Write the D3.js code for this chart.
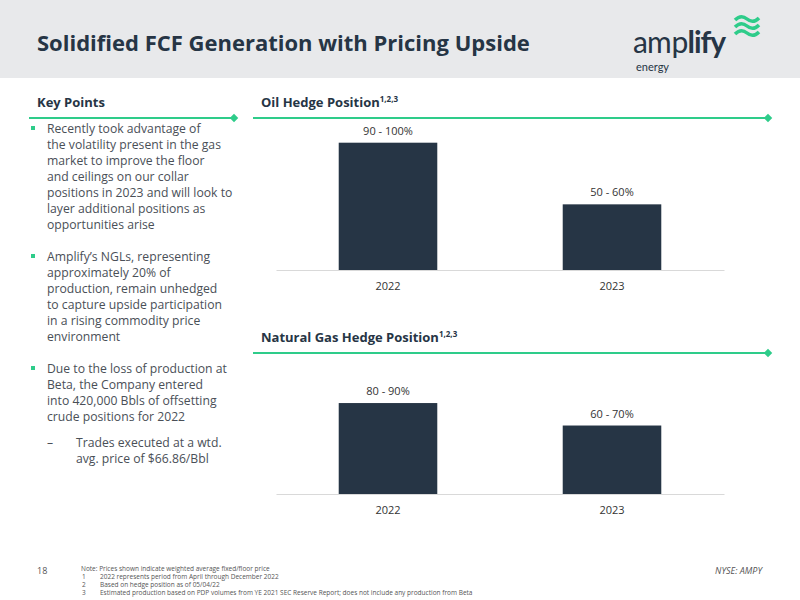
<!DOCTYPE html>
<html><head><meta charset="utf-8">
<script src="https://cdn.jsdelivr.net/npm/d3@7"></script>
<style>body{margin:0}svg{font-family:"Open Sans",sans-serif}</style>
</head><body><svg width="800" height="600"></svg>
<script>
const years = ["2022", "2023"];
const oilValues = [95, 49];
const oilLabels = ["90 - 100%", "50 - 60%"];
const gasValues = [85, 64];
const gasLabels = ["80 - 90%", "60 - 70%"];
const bullets = [
  ["Recently took advantage of", "the volatility present in the gas", "market to improve the floor", "and ceilings on our collar", "positions in 2023 and will look to", "layer additional positions as", "opportunities arise"],
  ["Amplify’s NGLs, representing", "approximately 20% of", "production, remain unhedged", "to capture upside participation", "in a rising commodity price", "environment"],
  ["Due to the loss of production at", "Beta, the Company entered", "into 420,000 Bbls of offsetting", "crude positions for 2022"]
];
const subBullet = ["Trades executed at a wtd.", "avg. price of $66.86/Bbl"];
const notes = ["Note: Prices shown indicate weighted average fixed/floor price",
  "2022 represents period from April through December 2022",
  "Based on hedge position as of 05/04/22",
  "Estimated production based on PDP volumes from YE 2021 SEC Reserve Report; does not include any production from Beta"];

const navy = "#263545", green = "#2ecc8a", grey = "#4a4f57";
const svg = d3.select("svg");
svg.append("rect").attr("width", 800).attr("height", 78).attr("fill", "#e8e9eb");
svg.append("text").attr("x", 37).attr("y", 51).attr("font-size", 22).attr("font-weight", "bold")
  .attr("fill", navy).text("Solidified FCF Generation with Pricing Upside");

// logo
svg.append("text").attr("x", 633).attr("y", 53).attr("font-size", 30).attr("fill", navy)
  .attr("font-family", "Lato").attr("letter-spacing", -1)
  .html('am<tspan dx="1">p</tspan><tspan font-weight="bold">lify</tspan>');
svg.append("text").attr("x", 636).attr("y", 71).attr("font-size", 11).attr("fill", navy)
  .attr("font-family", "Lato").text("energy");
[0, 7, 14].forEach(d => svg.append("path")
  .attr("d", `M735,${20 + d} q6,-6 12,-1 t12,-1`).attr("fill", "none")
  .attr("stroke", green).attr("stroke-width", 3.5));

// section headers
const header = (x, y, x2, label, sup) => {
  const t = svg.append("text").attr("x", x).attr("y", y).attr("font-size", 13)
    .attr("font-weight", "bold").attr("fill", navy).text(label);
  if (sup) t.append("tspan").attr("font-size", 8).attr("dy", -5).text(sup);
  svg.append("line").attr("x1", x - 8).attr("x2", x2).attr("y1", y + 11).attr("y2", y + 11)
    .attr("stroke", green).attr("stroke-width", 2);
  svg.append("rect").attr("x", x2 - 3).attr("y", y + 8).attr("width", 6).attr("height", 6)
    .attr("fill", green).attr("transform", `rotate(45,${x2},${y + 11})`);
};
header(37, 107, 234, "Key Points");
header(261, 107, 768, "Oil Hedge Position", "1,2,3");
header(261, 342, 768, "Natural Gas Hedge Position", "1,2,3");

// bullets
let y = 132;
bullets.forEach(lines => {
  svg.append("rect").attr("x", 31).attr("y", y - 6).attr("width", 4).attr("height", 4).attr("fill", green);
  lines.forEach(l => {
    svg.append("text").attr("x", 47).attr("y", y + 1).attr("font-size", 12.2).attr("fill", grey).text(l);
    y += 16;
  });
  y += 16;
});
y -= 6;
svg.append("text").attr("x", 47).attr("y", y + 1).attr("font-size", 12.2).attr("fill", grey).text("–");
subBullet.forEach(l => {
  svg.append("text").attr("x", 76).attr("y", y + 1).attr("font-size", 12.2).attr("fill", grey).text(l);
  y += 16;
});

// charts
const x = d3.scaleBand().domain(years).range([276, 724]).paddingInner(0.56).paddingOuter(0.28);
const chart = (vals, labels, base, pxPerUnit) => {
  const yS = d3.scaleLinear().domain([0, 100]).range([base, base - 100 * pxPerUnit]);
  const g = svg.append("g");
  g.selectAll("rect").data(vals).join("rect")
    .attr("x", (d, i) => x(years[i])).attr("width", x.bandwidth())
    .attr("y", d => yS(d)).attr("height", d => base - yS(d)).attr("fill", navy);
  g.selectAll(".lbl").data(vals).join("text")
    .attr("x", (d, i) => x(years[i]) + x.bandwidth() / 2).attr("y", d => yS(d) - 8)
    .attr("text-anchor", "middle").attr("font-size", 11).attr("fill", "#333")
    .text((d, i) => labels[i]);
  const ax = g.append("g").attr("transform", `translate(0,${base})`)
    .call(d3.axisBottom(x).tickSize(0).tickPadding(12));
  ax.select(".domain").attr("stroke", "#d9d9d9");
  ax.selectAll("text").attr("font-size", 11).attr("fill", "#333").attr("font-family", "Open Sans");
};
chart(oilValues, oilLabels, 270, 1.34);
chart(gasValues, gasLabels, 494, 1.07);

// footer
svg.append("text").attr("x", 37).attr("y", 574).attr("font-size", 9).attr("fill", "#555").text("18");
notes.forEach((n, i) => {
  if (i > 0) svg.append("text").attr("x", 82).attr("y", 571 + i * 8).attr("font-size", 6.5).attr("fill", "#555").text(i);
  svg.append("text").attr("x", i ? 100 : 81).attr("y", 571 + i * 8).attr("font-size", 6.5)
    .attr("fill", "#555").text(n);
});
svg.append("text").attr("x", 762).attr("y", 574).attr("text-anchor", "end").attr("font-size", 9)
  .attr("font-style", "italic").attr("fill", "#555").text("NYSE: AMPY");
</script></body></html>
